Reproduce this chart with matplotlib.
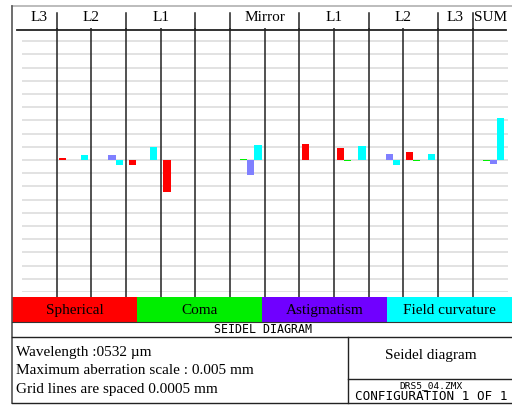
import matplotlib.pyplot as plt
from matplotlib.patches import Rectangle

# Seidel coefficients per surface column (mm)
spherical = [0, 0.00008, 0, -0.0002, -0.0012, 0, 0, 0, 0.00062, 0.00047, 0, 0.00032, 0, 0]
coma = [0, 0, 0, 0, 0, 0, 0.00004, 0, 0, -0.00005, 0, -0.00002, 0, -0.00005]
astigmatism = [0, 0, 0.0002, 0, 0, 0, -0.00057, 0, 0, 0, 0.00021, 0, 0, -0.00016]
field_curv = [0, 0.0002, -0.0002, 0.0005, 0, 0, 0.00057, 0, 0, 0.00052, -0.00019, 0.00021, 0, 0.0016]

# header labels: (text, first column, last column)
headers = [("L3", 0, 0), ("L2", 1, 2), ("L1", 3, 4), ("Mirror", 6, 7),
           ("L1", 8, 9), ("L2", 10, 11), ("L3", 12, 12), ("SUM", 13, 13)]
legend_names = ["Spherical", "Coma", "Astigmatism", "Field curvature"]
bar_colors = ["#ff0000", "#00ee00", "#8080ff", "#00ffff"]
band_colors = ["#ff0000", "#00ee00", "#7000ff", "#00ffff"]

max_scale = 0.005
grid_step = 0.0005

W, H = 512, 406
X0, X1 = 22, 507.5      # plot area in pixels
Y0, Y1 = 29, 293
ncol = len(spherical)
colw = (X1 - X0) / ncol
SERIF = "Liberation Serif"
MONO = "DejaVu Sans Mono"

fig = plt.figure(figsize=(W / 100, H / 100), dpi=100)

# frame / boxes in pixel coordinates
bg = fig.add_axes([0, 0, 1, 1])
bg.set_xlim(0, W)
bg.set_ylim(H, 0)
bg.axis("off")

bg.plot([12, W], [7, 7], color="#b0b0b0", lw=1.2)
bg.plot([12, 12], [7, 404], color="#555555", lw=1.2)
bg.plot([16.7, 506], [30.5, 30.5], color="#222222", lw=1.3)

# header ticks and labels
for name, c0, c1 in headers:
    xa = X0 + c0 * colw
    xb = X0 + (c1 + 1) * colw
    bg.text((xa + xb) / 2, 17.5, name, ha="center", va="center",
            fontsize=11, family=SERIF)
for k in [1, 3, 5, 6, 8, 10, 12, 13]:
    x = X0 + k * colw
    bg.plot([x, x], [14, 30.5], color="#222222", lw=1.1)

# legend band
bw = (W - 12) / 4
for i, (name, col) in enumerate(zip(legend_names, band_colors)):
    bg.add_patch(Rectangle((12 + i * bw, 298), bw, 25, facecolor=col,
                           edgecolor="none"))
    bg.text(12 + i * bw + bw / 2, 311, name, ha="center", va="center",
            fontsize=11, family=SERIF)

bg.plot([12, W], [323, 323], color="#333333", lw=0.8)
bg.text(263, 330, "SEIDEL DIAGRAM", ha="center", va="center",
        fontsize=8.4, family=MONO)
bg.plot([12, W], [337.5, 337.5], color="#222222", lw=1.0)
bg.plot([12, W], [404, 404], color="#222222", lw=1.0)
bg.plot([348, 348], [337.5, 404], color="#222222", lw=1.0)
bg.plot([348, W], [379.5, 379.5], color="#222222", lw=1.0)

info = ["Wavelength :0532 \u00b5m",
        "Maximum aberration scale : 0.005 mm",
        "Grid lines are spaced 0.0005 mm"]
for i, line in enumerate(info):
    bg.text(16.5, 352.5 + i * 18.3, line, ha="left", va="center",
            fontsize=11, family=SERIF)
bg.text(431, 355.5, "Seidel diagram", ha="center", va="center",
        fontsize=11, family=SERIF)
bg.text(431, 385.5, "DRS5_04.ZMX", ha="center", va="center",
        fontsize=6.8, family=MONO)
bg.text(431, 396.5, "CONFIGURATION 1 OF 1", ha="center", va="center",
        fontsize=9.1, family=MONO)

# data axes
ax = fig.add_axes([X0 / W, (H - Y1) / H, (X1 - X0) / W, (Y1 - Y0) / H])
ax.set_xlim(0, ncol)
ax.set_ylim(-max_scale, max_scale)
ax.axis("off")
ax.patch.set_alpha(0)

n_grid = int(round(max_scale / grid_step))
for g in range(-n_grid, n_grid):
    ax.axhline(g * grid_step, color="#e2e2e2", lw=1.4, zorder=1)

px = 2 * max_scale / (Y1 - Y0)
ax.vlines(range(1, ncol), -max_scale - 5 * px, max_scale, color="#222222",
          lw=1.1, zorder=2, clip_on=False)

bar_w = 0.208
series = [spherical, coma, astigmatism, field_curv]
for j, (vals, col) in enumerate(zip(series, bar_colors)):
    lefts = [i + 0.075 + j * bar_w for i in range(ncol)]
    ax.bar(lefts, vals, width=bar_w, align="edge", color=col,
           edgecolor="none", zorder=3)

fig.savefig("out.png", dpi=100, facecolor="white")
